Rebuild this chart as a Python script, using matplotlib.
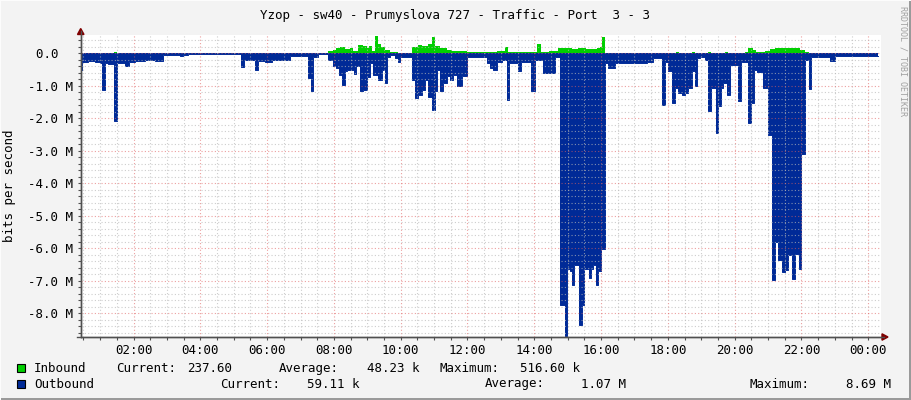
import matplotlib
matplotlib.use('Agg')
import matplotlib.pyplot as plt
from matplotlib.patches import Rectangle, Polygon
from matplotlib.lines import Line2D

W, H = 911, 400

# ---------------- data (time: minutes since 00:00, values: Mbit/s) ----------------
out_t = [24, 27, 38, 51, 60, 63, 68, 74, 85, 90, 105, 111, 123, 141, 159, 173, 186, 204, 209, 218,
         313, 318, 329, 338, 343, 356, 369, 383, 401, 433, 439, 442, 451, 469, 478, 484, 489, 495,
         500, 504, 509, 516, 520, 527, 532, 539, 545, 550, 559, 566, 572, 575, 581, 590, 595, 599,
         620, 626, 631, 638, 644, 649, 656, 662, 665, 671, 676, 683, 689, 694, 701, 710, 719, 755,
         760, 766, 773, 782, 791, 795, 811, 816, 834, 841, 856, 877, 886, 895, 899, 904, 908, 911,
         920, 926, 930, 938, 942, 945, 951, 954, 960, 967, 972, 985, 1042, 1053, 1069, 1075, 1080,
         1087, 1093, 1098, 1105, 1111, 1116, 1123, 1129, 1132, 1138, 1147, 1152, 1157, 1166, 1170,
         1175, 1179, 1186, 1192, 1206, 1211, 1213, 1224, 1229, 1235, 1240, 1251, 1260, 1267, 1272,
         1278, 1285, 1290, 1296, 1303, 1308, 1316, 1319, 1326, 1334, 1337, 1371, 1380, 1407, 1434]
out_v = [0.50, 0.26, 0.25, 0.28, 0.30, 1.12, 0.30, 0.32, 2.09, 0.30, 0.39, 0.28, 0.25, 0.22, 0.24,
         0.06, 0.05, 0.08, 0.05, 0.01,
         0.41, 0.20, 0.22, 0.51, 0.25, 0.28, 0.22, 0.20, 0.08, 0.75, 1.15, 0.10, 0.01, 0.22, 0.40,
         0.45, 0.66, 0.97, 0.55, 0.50, 0.52, 0.63, 0.40, 1.17, 1.12, 0.72, 0.30, 0.66, 0.81, 0.50,
         0.92, 0.10, 0.05, 0.15, 0.26, 0.10,
         0.82, 1.37, 1.27, 1.12, 0.82, 1.33, 1.73, 1.17, 0.50, 1.17, 0.92, 0.71, 0.81, 0.66, 1.00,
         0.71, 0.10, 0.30, 0.45, 0.50, 0.26, 0.20, 1.43, 0.30, 0.56, 0.28, 1.17, 0.20, 0.61, 0.10,
         7.75, 8.69, 6.63, 6.70, 7.13, 6.50, 8.36, 7.75, 6.63, 6.90, 6.63, 6.50, 7.13, 6.70, 6.01,
         0.30, 0.46, 0.30, 0.26, 0.15, 1.58, 0.26, 0.56, 1.52, 1.07, 1.22, 1.27, 1.22, 1.07, 0.56,
         1.02, 0.15, 0.10, 0.20, 1.78, 1.07, 2.44, 1.63, 1.07, 0.92, 1.27, 0.36, 1.46, 0.22, 0.28,
         2.14, 1.54, 0.51, 0.58, 1.08, 2.50, 6.98, 5.80, 6.37, 6.73, 6.68, 6.22, 6.93, 6.17, 6.63,
         3.11, 0.20, 1.10, 0.10, 0.25, 0.08, 0.09, 0.07]
in_t = [24, 85, 90, 401, 433, 451, 469, 478, 484, 491, 500, 509, 514, 523, 532, 539, 543, 548, 554,
        559, 565, 572, 581, 595, 620, 631, 638, 649, 656, 662, 671, 683, 692, 719, 742, 773, 787,
        793, 814, 845, 852, 866, 883, 895, 908, 918, 933, 944, 953, 958, 962, 967, 1095, 1100,
        1123, 1129, 1152, 1157, 1183, 1188, 1218, 1224, 1233, 1238, 1254, 1263, 1272, 1308, 1317,
        1326, 1334]
in_v = [0.005, 0.03, 0.005, 0.01, 0.02, 0.0, 0.08, 0.10, 0.15, 0.18, 0.12, 0.16, 0.08, 0.25, 0.22,
        0.15, 0.22, 0.08, 0.53, 0.30, 0.20, 0.10, 0.03, 0.02, 0.20, 0.25, 0.22, 0.28, 0.50, 0.22,
        0.15, 0.10, 0.08, 0.03, 0.05, 0.06, 0.20, 0.05, 0.04, 0.30, 0.05, 0.06, 0.15, 0.17, 0.13,
        0.15, 0.14, 0.12, 0.15, 0.18, 0.50, 0.0, 0.04, 0.0, 0.04, 0.0, 0.04, 0.0, 0.04, 0.0, 0.03,
        0.16, 0.10, 0.05, 0.08, 0.14, 0.17, 0.15, 0.10, 0.04, 0.0]
end_t = 1457

x_ticks = [120, 240, 360, 480, 600, 720, 840, 960, 1080, 1200, 1320, 1440]
x_labels = ['02:00', '04:00', '06:00', '08:00', '10:00', '12:00', '14:00', '16:00',
            '18:00', '20:00', '22:00', '00:00']
y_ticks = [0, -1, -2, -3, -4, -5, -6, -7, -8]
y_labels = ['0.0  ', '-1.0 M', '-2.0 M', '-3.0 M', '-4.0 M', '-5.0 M', '-6.0 M', '-7.0 M', '-8.0 M']

title = 'Yzop - sw40 - Prumyslova 727 - Traffic - Port  3 - 3'
legend_names = ['Inbound', 'Outbound']
in_stats = ['237.60', '48.23 k', '516.60 k']
out_stats = ['59.11 k', '1.07 M', '8.69 M']

GREEN = '#00CF00'
BLUE = '#002A97'
BG = '#F3F3F3'
MONO = 'DejaVu Sans Mono'


def fx(x):
    return x / W


def fy(y):
    return 1 - y / H


fig = plt.figure(figsize=(W / 100, H / 100), dpi=100, facecolor=BG)
ax = fig.add_axes([fx(80.7), fy(337), fx(881) - fx(80.7), fy(35) - fy(337)])
ax.set_facecolor('white')
ax.set_xlim(25, 1463)
ax.set_ylim(-8.73, 0.563)

t_out = out_t + [end_t]
v_out = [-v for v in out_v] + [-out_v[-1]]
t_in = in_t + [end_t]
v_in = in_v + [in_v[-1]]
ax.fill_between(t_in, v_in, 0, step='post', color=GREEN, lw=0, zorder=1)
ax.fill_between(t_out, v_out, 0, step='post', color=BLUE, lw=0, zorder=1.2)
ax.step(t_out, v_out, where='post', color=BLUE, lw=0.7, zorder=1.3)

# grid (drawn above data, like rrdtool)
grid_kw = dict(lw=0.8, linestyle=(0, (1, 2)), zorder=3)
m = 30
while m < 1463:
    if m % 120 != 0:
        ax.axvline(m, color='#b8b8b8', alpha=0.7, **grid_kw)
    m += 30
for t in x_ticks:
    ax.axvline(t, color='#e06060', alpha=0.6, **grid_kw)
k = -43
while k <= 2:
    v = k * 0.2
    if k % 5 != 0:
        ax.axhline(v, color='#b8b8b8', alpha=0.7, **grid_kw)
    k += 1
for v in y_ticks:
    ax.axhline(v, color='#e06060', alpha=0.6, **grid_kw)

for s in ['top', 'right']:
    ax.spines[s].set_visible(False)
for s in ['left', 'bottom']:
    ax.spines[s].set_color('#505050')
    ax.spines[s].set_linewidth(1.0)

ax.set_xticks(x_ticks)
ax.set_xticklabels(x_labels, fontfamily=MONO, fontsize=9)
ax.set_xticks(list(range(30, 1463, 30)), minor=True)
ax.set_yticks(y_ticks)
ax.set_yticklabels(y_labels, fontfamily=MONO, fontsize=9)
ax.set_yticks([i * 0.2 for i in range(-43, 3)], minor=True)
ax.tick_params(axis='both', which='both', direction='out', length=2, width=0.8, color='#505050')
ax.tick_params(axis='x', which='major', pad=3)
ax.tick_params(axis='y', which='major', pad=3.5)

# axis arrows / extensions
fig.add_artist(Line2D([fx(80.7), fx(80.7)], [fy(337), fy(31)], color='#505050', lw=1.0))
fig.add_artist(Polygon([[fx(77.5), fy(34.5)], [fx(84), fy(34.5)], [fx(80.7), fy(28.5)]],
                       closed=True, color='#7F0000'))
fig.add_artist(Line2D([fx(77), fx(884)], [fy(337), fy(337)], color='#505050', lw=1.0))
fig.add_artist(Polygon([[fx(882), fy(333.8)], [fx(882), fy(340.2)], [fx(888), fy(337)]],
                       closed=True, color='#7F0000'))

# texts
fig.text(0.5, fy(15), title, ha='center', va='center', fontfamily=MONO, fontsize=9)
fig.text(fx(10), fy(186), 'bits per second', rotation=90, ha='center', va='center',
         fontfamily=MONO, fontsize=9)
fig.text(fx(902.5), fy(60.5), 'RRDTOOL / TOBI OETIKER', rotation=270, ha='center', va='center',
         fontfamily=MONO, fontsize=6, color='#a0a0a0')

# legend
rows = [(372, GREEN, legend_names[0],
         [('Current:', 116), (in_stats[0], 187), ('Average:', 279), (in_stats[1], 367),
          ('Maximum:', 440), (in_stats[2], 520)]),
        (387.5, BLUE, legend_names[1],
         [('Current:', 220), (out_stats[0], 307), ('Average:', 485), (out_stats[1], 581),
          ('Maximum:', 750), (out_stats[2], 846)])]
for base, col, name, items in rows:
    fig.add_artist(Rectangle((fx(17), fy(base)), fx(8), 8 / H, transform=fig.transFigure,
                             facecolor=col, edgecolor='black', lw=0.8))
    fig.text(fx(34), fy(base), name, ha='left', va='baseline', fontfamily=MONO, fontsize=9)
    for txt, x in items:
        fig.text(fx(x), fy(base), txt, ha='left', va='baseline', fontfamily=MONO, fontsize=9)

# 3D frame of the rrdtool image
fig.add_artist(Rectangle((fx(909), 0), fx(2), 1, transform=fig.transFigure, color='#9a9a9a', lw=0))
fig.add_artist(Rectangle((0, 0), 1, 2 / H, transform=fig.transFigure, color='#9a9a9a', lw=0))
fig.add_artist(Rectangle((0, 0), fx(1), 1, transform=fig.transFigure, color='#fcfcfc', lw=0))
fig.add_artist(Rectangle((0, fy(1)), 1, 1 / H, transform=fig.transFigure, color='#fcfcfc', lw=0))

fig.savefig('out.png', dpi=100, facecolor=BG)
